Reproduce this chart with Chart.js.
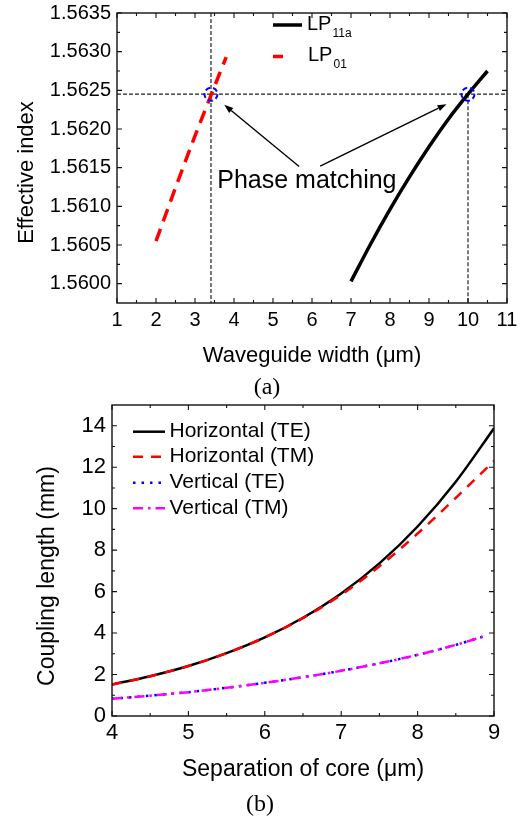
<!DOCTYPE html>
<html>
<head>
<meta charset="utf-8">
<title>Effective index and coupling length</title>
<script src="https://cdn.jsdelivr.net/npm/chart.js@4.4.1/dist/chart.umd.min.js"></script>
<style>
  html, body { margin: 0; padding: 0; background: #fff; }
  #wrap { position: relative; width: 532px; height: 816px; }
  .box { position: absolute; left: 0; width: 532px; }
  #boxA { top: 0; height: 400px; }
  #boxB { top: 400px; height: 416px; }
</style>
</head>
<body>
<div id="wrap">
  <div class="box" id="boxA"><canvas id="chartA"></canvas></div>
  <div class="box" id="boxB"><canvas id="chartB"></canvas></div>
</div>
<script>
// ---- (a) effective index vs waveguide width ----
const widthTicks = [1, 2, 3, 4, 5, 6, 7, 8, 9, 10, 11];
const indexTicks = [1.5600, 1.5605, 1.5610, 1.5615, 1.5620, 1.5625, 1.5630, 1.5635];

const lp11aWidth = [7, 7.5, 8, 8.5, 9, 9.5, 10, 10.5];
const lp11aIndex = [1.56003, 1.56051, 1.56096, 1.56138, 1.56177, 1.56213, 1.56245, 1.56275];

const lp01Width = [2, 2.5, 3, 3.5, 3.8];
const lp01Index = [1.56055, 1.56124, 1.56191, 1.56255, 1.56293];

// phase matching points (where both modes share the same index)
const matchWidth = [3.41, 10.0];
const matchIndex = [1.56245, 1.56245];

// ---- (b) coupling length vs core separation ----
const sepTicks = [4, 5, 6, 7, 8, 9];
const lengthTicks = [0, 2, 4, 6, 8, 10, 12, 14];

const sepH = [4, 4.5, 5, 5.5, 6, 6.5, 7, 7.5, 8, 8.5, 9];
const horizTE = [1.52, 1.92, 2.41, 3.03, 3.79, 4.74, 5.91, 7.36, 9.14, 11.3, 13.88];
const horizTM = [1.52, 1.92, 2.41, 3.03, 3.79, 4.72, 5.85, 7.22, 8.8, 10.52, 12.3];

const sepV = [4, 4.5, 5, 5.5, 6, 6.5, 7, 7.5, 8, 8.5, 8.85];
const vertTE = [0.83, 0.98, 1.15, 1.36, 1.6, 1.87, 2.18, 2.54, 2.95, 3.43, 3.82];
const vertTM = [0.83, 0.98, 1.15, 1.36, 1.6, 1.87, 2.18, 2.54, 2.95, 3.43, 3.82];

const SANS = "'Liberation Sans', Arial, sans-serif";
const SERIF = "'Liberation Serif', 'Times New Roman', serif";

Chart.defaults.color = '#000';

function toPoints(xs, ys) {
  return xs.map((x, i) => ({ x: x, y: ys[i] }));
}

function fixedTicks(values) {
  return scale => { scale.ticks = values.map(v => ({ value: v })); };
}

function noPad(scale) {
  scale.paddingTop = scale.paddingBottom = scale.paddingLeft = scale.paddingRight = 0;
}

function midpoints(arr) {
  return arr.slice(1).map((v, i) => (v + arr[i]) / 2);
}

// box round the plot with inward ticks on all four sides
function drawFrame(chart, xMajor, yMajor) {
  const { ctx, chartArea: a, scales: { x, y } } = chart;
  ctx.save();
  ctx.strokeStyle = '#111';
  ctx.lineWidth = 1.4;
  ctx.strokeRect(a.left, a.top, a.right - a.left, a.bottom - a.top);
  ctx.lineWidth = 1.1;
  ctx.beginPath();
  const xt = (vals, len) => vals.forEach(v => {
    const px = x.getPixelForValue(v);
    ctx.moveTo(px, a.bottom); ctx.lineTo(px, a.bottom - len);
    ctx.moveTo(px, a.top); ctx.lineTo(px, a.top + len);
  });
  const yt = (vals, len) => vals.forEach(v => {
    const py = y.getPixelForValue(v);
    ctx.moveTo(a.left, py); ctx.lineTo(a.left + len, py);
    ctx.moveTo(a.right, py); ctx.lineTo(a.right - len, py);
  });
  xt(xMajor, 5); xt(midpoints(xMajor), 3);
  yt(yMajor, 5); yt(midpoints(yMajor), 3);
  ctx.stroke();
  ctx.restore();
}

function text(ctx, str, x, y, font, align, rot) {
  ctx.save();
  ctx.font = font;
  ctx.fillStyle = '#000';
  ctx.textAlign = align || 'center';
  ctx.textBaseline = 'middle';
  ctx.translate(x, y);
  if (rot) ctx.rotate(rot);
  ctx.fillText(str, 0, 0);
  ctx.restore();
}

function arrow(ctx, x1, y1, x2, y2) {
  const ang = Math.atan2(y2 - y1, x2 - x1);
  const L = 9, W = 3.2;
  const bx = x2 - L * Math.cos(ang), by = y2 - L * Math.sin(ang);
  ctx.beginPath(); ctx.moveTo(x1, y1); ctx.lineTo(bx, by); ctx.stroke();
  ctx.beginPath();
  ctx.moveTo(x2, y2);
  ctx.lineTo(bx + W * Math.sin(ang), by - W * Math.cos(ang));
  ctx.lineTo(bx - W * Math.sin(ang), by + W * Math.cos(ang));
  ctx.closePath(); ctx.fill();
}

// mode label with subscript, e.g. LP + 11a
function modeLabel(ctx, main, sub, x, y) {
  ctx.save();
  ctx.fillStyle = '#000';
  ctx.textBaseline = 'middle';
  ctx.textAlign = 'left';
  ctx.font = '20px ' + SANS;
  ctx.fillText(main, x, y);
  const w = ctx.measureText(main).width;
  ctx.font = '12px ' + SANS;
  ctx.fillText(sub, x + w + 1, y + 9.5);
  ctx.restore();
}

// arrows from the "Phase matching" label towards the two crossing points
const arrowsA = [
  { from: [5.67, 1.561516], to: [3.75, 1.562313] },
  { from: [6.21, 1.56152], to: [9.45, 1.56232] }
];
const phaseLabelAt = [3.57, 1.56124];

const annotateA = {
  id: 'annotateA',
  beforeDatasetsDraw(chart) {
    const { ctx, chartArea: a, scales: { x, y } } = chart;
    const py = y.getPixelForValue(matchIndex[0]);
    ctx.save();
    ctx.strokeStyle = '#222';
    ctx.lineWidth = 1.2;
    ctx.setLineDash([4, 2]);
    ctx.beginPath();
    ctx.moveTo(a.left, py); ctx.lineTo(a.right, py);
    const x0 = x.getPixelForValue(matchWidth[0]);
    ctx.moveTo(x0, a.top); ctx.lineTo(x0, a.bottom);
    const x1 = x.getPixelForValue(matchWidth[1]);
    ctx.moveTo(x1, y.getPixelForValue(matchIndex[1])); ctx.lineTo(x1, a.bottom);
    ctx.stroke();
    ctx.restore();
  },
  afterDraw(chart) {
    const { ctx, chartArea: a, scales: { x, y } } = chart;
    drawFrame(chart, widthTicks, indexTicks);

    // circles at the phase matching points
    ctx.save();
    ctx.strokeStyle = '#0000ff';
    ctx.lineWidth = 2;
    ctx.setLineDash([5, 3]);
    matchWidth.forEach((w, i) => {
      ctx.beginPath();
      ctx.arc(x.getPixelForValue(w), y.getPixelForValue(matchIndex[i]), 6.5, 0, Math.PI * 2);
      ctx.stroke();
    });
    ctx.restore();

    ctx.save();
    ctx.strokeStyle = '#000';
    ctx.fillStyle = '#000';
    ctx.lineWidth = 1.4;
    arrowsA.forEach(ar => arrow(ctx,
      x.getPixelForValue(ar.from[0]), y.getPixelForValue(ar.from[1]),
      x.getPixelForValue(ar.to[0]), y.getPixelForValue(ar.to[1])));
    ctx.font = '25px ' + SANS;
    ctx.textAlign = 'left';
    ctx.textBaseline = 'alphabetic';
    ctx.fillText('Phase matching', x.getPixelForValue(phaseLabelAt[0]), y.getPixelForValue(phaseLabelAt[1]));
    ctx.restore();

    // legend
    const ds = chart.data.datasets;
    ctx.save();
    ctx.lineWidth = 3.5;
    ctx.strokeStyle = ds[0].borderColor;
    ctx.beginPath(); ctx.moveTo(273, 25); ctx.lineTo(302, 25); ctx.stroke();
    ctx.strokeStyle = ds[1].borderColor;
    ctx.beginPath(); ctx.moveTo(273, 56.5); ctx.lineTo(283, 56.5); ctx.stroke();
    ctx.restore();
    modeLabel(ctx, 'LP', '11a', 307, 24);
    modeLabel(ctx, 'LP', '01', 308, 55);

    text(ctx, 'Effective index', 27, 172.5, '22px ' + SANS, 'center', -Math.PI / 2);
    text(ctx, 'Waveguide width (\u03bcm)', (a.left + a.right) / 2, 356, '22px ' + SANS);
    text(ctx, '(a)', 267, 388, '24px ' + SERIF);
  }
};

new Chart(document.getElementById('chartA'), {
  type: 'line',
  data: {
    datasets: [
      {
        label: 'LP11a',
        data: toPoints(lp11aWidth, lp11aIndex),
        borderColor: '#000',
        borderWidth: 3.5,
        pointRadius: 0,
        cubicInterpolationMode: 'monotone'
      },
      {
        label: 'LP01',
        data: toPoints(lp01Width, lp01Index),
        borderColor: '#ff0000',
        borderWidth: 3.5,
        borderDash: [13, 8],
        pointRadius: 0,
        cubicInterpolationMode: 'monotone'
      }
    ]
  },
  options: {
    responsive: true,
    maintainAspectRatio: false,
    animation: false,
    layout: { padding: { left: 0, top: 13, right: 25, bottom: 0 } },
    plugins: { legend: { display: false }, tooltip: { enabled: false } },
    scales: {
      x: {
        type: 'linear', min: 1, max: 11,
        grid: { display: false, drawTicks: false },
        border: { display: false },
        afterBuildTicks: fixedTicks(widthTicks),
        afterFit: s => { s.height = 97; noPad(s); },
        ticks: { padding: 5, maxRotation: 0, autoSkip: false, color: '#000', font: { family: SANS, size: 20 } }
      },
      y: {
        type: 'linear', min: 1.55975, max: 1.5635,
        grid: { display: false, drawTicks: false },
        border: { display: false },
        afterBuildTicks: fixedTicks(indexTicks),
        afterFit: s => { s.width = 117; noPad(s); },
        ticks: { padding: 6, autoSkip: false, color: '#000', font: { family: SANS, size: 20 },
                 callback: v => Number(v).toFixed(4) }
      }
    }
  },
  plugins: [annotateA]
});

// ---- chart (b) ----
const annotateB = {
  id: 'annotateB',
  afterDraw(chart) {
    const { ctx, chartArea: a } = chart;
    drawFrame(chart, sepTicks, lengthTicks);

    // legend rows, samples use each dataset's own stroke
    const rows = [31.7, 56.7, 82.7, 108.3];
    chart.data.datasets.forEach((d, i) => {
      ctx.save();
      ctx.strokeStyle = d.borderColor;
      ctx.lineWidth = d.borderWidth;
      ctx.setLineDash(d.borderDash || []);
      ctx.beginPath(); ctx.moveTo(133, rows[i]); ctx.lineTo(165, rows[i]); ctx.stroke();
      ctx.restore();
      text(ctx, d.label, 169.5, rows[i], '21px ' + SANS, 'left');
    });

    text(ctx, 'Coupling length (mm)', 48, 176, '23px ' + SANS, 'center', -Math.PI / 2);
    text(ctx, 'Separation of core (\u03bcm)', (a.left + a.right) / 2, 369.5, '23px ' + SANS);
    text(ctx, '(b)', 260, 405, '24px ' + SERIF);
  }
};

new Chart(document.getElementById('chartB'), {
  type: 'line',
  data: {
    datasets: [
      { label: 'Horizontal (TE)', data: toPoints(sepH, horizTE), borderColor: '#000',
        borderWidth: 2.5, pointRadius: 0, cubicInterpolationMode: 'monotone', order: 4 },
      { label: 'Horizontal (TM)', data: toPoints(sepH, horizTM), borderColor: '#ff0000',
        borderWidth: 2.5, borderDash: [10, 8], pointRadius: 0, cubicInterpolationMode: 'monotone', order: 3 },
      { label: 'Vertical (TE)', data: toPoints(sepV, vertTE), borderColor: '#0000ff',
        borderWidth: 2.5, borderDash: [2.5, 6], pointRadius: 0, cubicInterpolationMode: 'monotone', order: 2 },
      { label: 'Vertical (TM)', data: toPoints(sepV, vertTM), borderColor: '#ff00ff',
        borderWidth: 2.5, borderDash: [10, 5, 2.5, 5], pointRadius: 0, cubicInterpolationMode: 'monotone', order: 1 }
    ]
  },
  options: {
    responsive: true,
    maintainAspectRatio: false,
    animation: false,
    layout: { padding: { left: 0, top: 5, right: 38, bottom: 0 } },
    plugins: { legend: { display: false }, tooltip: { enabled: false } },
    scales: {
      x: {
        type: 'linear', min: 4, max: 9,
        grid: { display: false, drawTicks: false },
        border: { display: false },
        afterBuildTicks: fixedTicks(sepTicks),
        afterFit: s => { s.height = 100; noPad(s); },
        ticks: { padding: 3.5, maxRotation: 0, autoSkip: false, color: '#000', font: { family: SANS, size: 22 } }
      },
      y: {
        type: 'linear', min: 0, max: 15,
        grid: { display: false, drawTicks: false },
        border: { display: false },
        afterBuildTicks: fixedTicks(lengthTicks),
        afterFit: s => { s.width = 112; noPad(s); },
        ticks: { padding: 6, autoSkip: false, color: '#000', font: { family: SANS, size: 22 } }
      }
    }
  },
  plugins: [annotateB]
});
</script>
</body>
</html>
